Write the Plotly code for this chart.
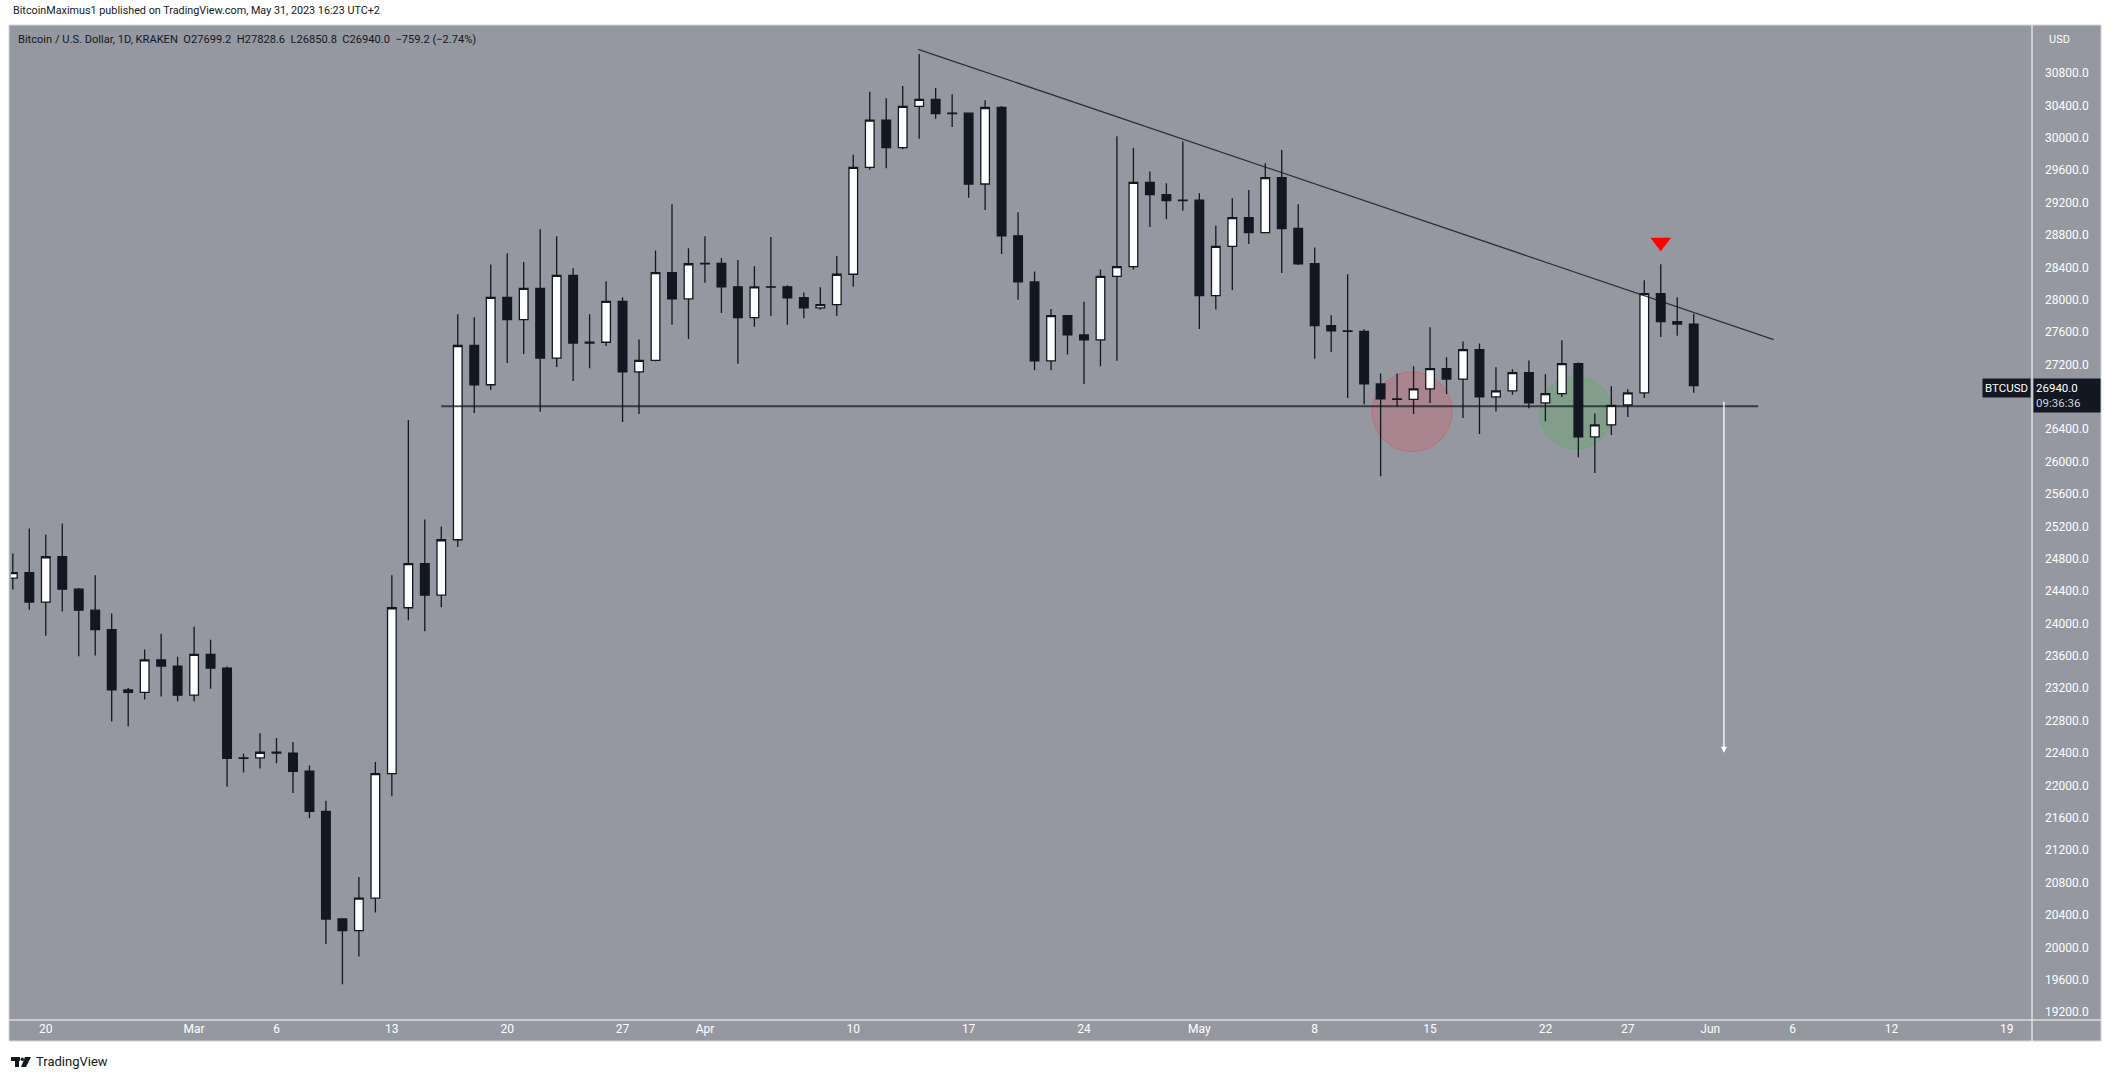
import pandas as pd
import plotly.graph_objects as go

# ---------------- data ----------------
dates = pd.date_range("2023-02-18", "2023-05-31", freq="D")

opens = [24560, 24630, 24265, 24825, 24425, 24165, 23925, 23180, 23150, 23550, 23475,
         23115, 23620, 23450, 22335, 22340, 22410, 22400, 22175, 21680, 20350, 20205, 20607,
         22145, 24195, 24740, 24350, 25035, 27435, 26950, 28030, 27755, 28140, 27280, 28300,
         27465, 27475, 27980, 27110, 27250, 28335, 28010,
         28445, 28450, 28160, 27780, 28160, 28160, 28025, 27900, 27940, 28315, 29635, 30220,
         29880, 30390, 30475, 30300, 30305, 29430, 30375, 28790, 28220, 27245, 27805, 27565,
         27505, 28290, 28410, 29450, 29300, 29225,
         29230, 28050, 28660, 29015, 28830, 29510, 28880, 28445, 27680, 27615, 27610, 26960,
         26775, 26770, 26900, 27150, 27020, 27385, 26800, 26875, 27100, 26725, 26840, 27210,
         26305, 26455, 26700, 26850, 28075, 27730, 27699.2]
highs = [24865, 25175, 25100, 25235, 24440, 24595, 24125, 23205, 23680, 23875, 23590,
         23960, 23800, 23470, 22390, 22645, 22585, 22535, 22245, 21810, 20355, 20870, 22290,
         24595, 26515, 25285, 25200, 27820, 27785, 28435, 28575, 28465, 28870, 28785, 28390,
         27820, 28230, 28030, 27510, 28610, 29180, 28635,
         28785, 28515, 28490, 28415, 28775, 28180, 28090, 28155, 28540, 29790, 30570, 30490,
         30640, 31035, 30615, 30540, 30310, 30465, 30395, 29080, 28350, 27885, 27810, 27975,
         28375, 30020, 29875, 29585, 29440, 29955,
         29315, 28915, 29255, 29355, 29685, 29850, 29180, 28645, 27810, 28315, 27635, 27090,
         27090, 27180, 27660, 27290, 27485, 27460, 27165, 27140, 27250, 27080, 27500, 27225,
         26595, 26930, 26895, 28240, 28440, 28030, 27828.6]
lows = [24420, 24170, 23850, 24150, 23595, 23605, 22790, 22730, 23060, 23100, 23040,
        23040, 23195, 21985, 22160, 22210, 22275, 21905, 21595, 20040, 19545, 19885, 20430,
        21865, 24040, 23905, 24200, 24945, 26600, 26885, 27220, 27330, 26615, 27170, 26995,
        27155, 27430, 26490, 26590, 27240, 27690, 27515,
        28210, 27835, 27210, 27665, 27800, 27690, 27770, 27875, 27800, 28160, 29605, 29625,
        29860, 29990, 30235, 30135, 29260, 29110, 28565, 28000, 27130, 27130, 27325, 26960,
        27180, 27245, 28375, 28900, 28995, 29100,
        27640, 27880, 28120, 28690, 28825, 28330, 28430, 27270, 27355, 26785, 26710, 25820,
        26680, 26590, 26725, 26835, 26540, 26340, 26620, 26825, 26660, 26500, 26800, 26055,
        25860, 26330, 26550, 26785, 27540, 27555, 26850.8]
closes = [24630, 24265, 24825, 24425, 24165, 23925, 23180, 23150, 23550, 23475, 23115,
          23620, 23450, 22335, 22340, 22410, 22400, 22175, 21680, 20350, 20205, 20607, 22145,
          24195, 24740, 24350, 25035, 27435, 26950, 28030, 27755, 28140, 27280, 28300, 27465,
          27475, 27980, 27110, 27250, 28335, 28010, 28445,
          28450, 28160, 27780, 28160, 28155, 28025, 27900, 27940, 28315, 29635, 30220, 29880,
          30390, 30475, 30300, 30305, 29430, 30375, 28790, 28220, 27245, 27805, 27565, 27505,
          28290, 28410, 29450, 29300, 29225, 29230,
          28050, 28660, 29015, 28830, 29510, 28880, 28445, 27680, 27615, 27610, 26960, 26775,
          26770, 26900, 27150, 27020, 27385, 26800, 26875, 27100, 26725, 26840, 27210, 26305,
          26455, 26695, 26850, 28075, 27730, 27699.2, 26940.0]

# drawings (date, price)
trend_dates = ["2023-04-13 22:30", "2023-06-04 20:30"]
trend_prices = [31094, 27508]
support_dates = ["2023-03-16", "2023-06-03 22:00"]
support_prices = [26683, 26683]
red_zone = ("2023-05-13 22:00", 26617)
green_zone = ("2023-05-23 20:00", 26605)
signal_date = ["2023-05-29"]
signal_price = [28710]
target_date = "2023-06-01 20:00"
target_from, target_to = 26757, 22404

x_tick_dates = ["2023-02-20", "2023-03-01", "2023-03-06", "2023-03-13", "2023-03-20",
                "2023-03-27", "2023-04-01", "2023-04-10", "2023-04-17", "2023-04-24",
                "2023-05-01", "2023-05-08", "2023-05-15", "2023-05-22", "2023-05-27",
                "2023-06-01", "2023-06-06", "2023-06-12", "2023-06-19"]
x_tick_text = ["20", "Mar", "6", "13", "20", "27", "Apr", "10", "17", "24", "May", "8",
               "15", "22", "27", "Jun", "6", "12", "19"]
# 26800 is hidden behind the last-price label in the reference
y_ticks = [19200, 19600, 20000, 20400, 20800, 21200, 21600, 22000, 22400, 22800, 23200,
           23600, 24000, 24400, 24800, 25200, 25600, 26000, 26400, 27200, 27600,
           28000, 28400, 28800, 29200, 29600, 30000, 30400, 30800]

# ---------------- layout geometry ----------------
W, H = 2113, 1079
L, R, T, B = 11, 2032, 26, 1020
BG = "#9598a1"
DARK = "#131722"
FONT = "Roboto, 'Open Sans', sans-serif"


def px(x):
    return (x - L) / (R - L)


def py(y):
    return (B - y) / (B - T)


fig = go.Figure()

fig.add_trace(go.Candlestick(
    x=dates, open=opens, high=highs, low=lows, close=closes, hoverinfo="skip",
    increasing=dict(fillcolor="#ffffff", line=dict(color=DARK, width=1.3)),
    decreasing=dict(fillcolor=DARK, line=dict(color=DARK, width=1.3)),
))

# support and trend lines
fig.add_trace(go.Scatter(x=support_dates, y=support_prices, mode="lines", hoverinfo="skip",
                         line=dict(color="rgba(19,23,34,0.72)", width=2)))
fig.add_trace(go.Scatter(x=trend_dates, y=trend_prices, mode="lines", hoverinfo="skip",
                         line=dict(color="rgba(19,23,34,0.8)", width=1.3)))
fig.add_trace(go.Scatter(x=signal_date, y=signal_price, mode="markers", hoverinfo="skip",
                         marker=dict(symbol="triangle-down", size=18, color="#ff0000")))

shapes = []
# gray chart frame
shapes.append(dict(type="rect", xref="paper", yref="paper", layer="below",
                   x0=px(9), x1=px(2101), y0=py(1041), y1=py(25),
                   fillcolor=BG, line=dict(color="#d1d4dc", width=1)))
# highlight zones, behind the candles
shapes.append(dict(type="circle", xref="x", yref="y", layer="below",
                   xsizemode="pixel", ysizemode="pixel",
                   xanchor=red_zone[0], yanchor=red_zone[1], x0=-40, x1=40, y0=-40, y1=40,
                   fillcolor="rgba(242,54,69,0.2)", line=dict(color="rgba(242,54,69,0.35)", width=1)))
shapes.append(dict(type="circle", xref="x", yref="y", layer="below",
                   xsizemode="pixel", ysizemode="pixel",
                   xanchor=green_zone[0], yanchor=green_zone[1], x0=-36.5, x1=36.5, y0=-36.5, y1=36.5,
                   fillcolor="rgba(76,175,80,0.27)", line=dict(color="rgba(76,175,80,0.35)", width=1)))
# separators
shapes.append(dict(type="line", xref="paper", yref="paper", x0=1, x1=1,
                   y0=py(1041), y1=py(25), line=dict(color="#ffffff", width=1)))
shapes.append(dict(type="line", xref="paper", yref="paper", x0=px(9), x1=px(2101),
                   y0=0, y1=0, line=dict(color="#ffffff", width=1)))
# TradingView logo glyph
shapes.append(dict(type="rect", xref="paper", yref="paper", x0=px(11), x1=px(20),
                   y0=py(1061), y1=py(1057), fillcolor=DARK, line=dict(width=0)))
shapes.append(dict(type="rect", xref="paper", yref="paper", x0=px(15), x1=px(19),
                   y0=py(1067), y1=py(1057), fillcolor=DARK, line=dict(width=0)))
shapes.append(dict(type="circle", xref="paper", yref="paper", x0=px(20.5), x1=px(24),
                   y0=py(1061), y1=py(1057.5), fillcolor=DARK, line=dict(width=0)))
shapes.append(dict(type="path", xref="paper", yref="paper", fillcolor=DARK, line=dict(width=0),
                   path=f"M{px(25)},{py(1057)} L{px(31)},{py(1057)} L{px(26)},{py(1067)} "
                        f"L{px(21)},{py(1067)} Z"))

last_o, last_h, last_l, last_c = opens[-1], highs[-1], lows[-1], closes[-1]
chg = last_c - closes[-2]
pct = chg / closes[-2] * 100
legend_txt = (f"Bitcoin / U.S. Dollar, 1D, KRAKEN&nbsp;&nbsp;O{last_o:.1f}&nbsp;&nbsp;H{last_h:.1f}"
              f"&nbsp;&nbsp;L{last_l:.1f}&nbsp;&nbsp;C{last_c:.1f}&nbsp;&nbsp;"
              f"\u2212{abs(chg):.1f} (\u2212{abs(pct):.2f}%)")

annotations = [
    dict(xref="paper", yref="paper", x=px(11), y=py(11), xanchor="left", yanchor="middle",
         text="BitcoinMaximus1 published on TradingView.com, May 31, 2023 16:23 UTC+2",
         showarrow=False, font=dict(family=FONT, size=10.8, color=DARK)),
    dict(xref="paper", yref="paper", x=px(16), y=py(40), xanchor="left", yanchor="middle",
         text=legend_txt, showarrow=False, font=dict(family=FONT, size=11.1, color=DARK)),
    dict(xref="paper", yref="paper", x=px(2047), y=py(40), xanchor="left", yanchor="middle",
         text="USD", showarrow=False, font=dict(family=FONT, size=11, color="#ffffff")),
    dict(xref="paper", yref="paper", x=px(34), y=py(1061), xanchor="left", yanchor="middle",
         text="TradingView", showarrow=False, font=dict(family=FONT, size=13, color=DARK)),
    dict(xref="paper", yref="y", x=1, y=last_c, xanchor="right", yanchor="middle",
         xshift=-1, yshift=-2,
         text="BTCUSD", showarrow=False, bgcolor=DARK, borderpad=2,
         font=dict(family=FONT, size=11.5, color="#ffffff")),
    dict(xref="paper", yref="y", x=1, y=last_c, xanchor="left", yanchor="top",
         xshift=1, yshift=8, width=62, align="left",
         text=f"{last_c:.1f}<br><span style='color:#d1d4dc'>09:36:36</span>",
         showarrow=False, bgcolor=DARK, borderpad=2,
         font=dict(family=FONT, size=11.5, color="#ffffff")),
    dict(x=target_date, y=target_to, ax=target_date, ay=target_from,
         xref="x", yref="y", axref="x", ayref="y", text="", showarrow=True,
         arrowhead=2, arrowsize=0.9, arrowwidth=1.3, arrowcolor="#ffffff", standoff=0),
]

fig.update_layout(
    width=W, height=H,
    margin=dict(l=L, r=W - R, t=T, b=H - B, pad=0),
    paper_bgcolor="#ffffff", plot_bgcolor=BG,
    showlegend=False, boxgap=0.25, hovermode=False,
    font=dict(family=FONT),
    shapes=shapes, annotations=annotations,
    xaxis=dict(type="date", range=["2023-02-17 21:20", "2023-06-20 12:40"],
               rangeslider=dict(visible=False), showgrid=False, zeroline=False,
               tickmode="array", tickvals=x_tick_dates, ticktext=x_tick_text,
               ticks="", showline=False,
               tickfont=dict(family=FONT, size=12, color="#ffffff")),
    yaxis=dict(side="right", range=[19102, 31382], showgrid=False, zeroline=False,
               tickmode="array", tickvals=y_ticks,
               ticktext=[f"{v:.1f}" for v in y_ticks], ticks="", showline=False,
               ticklabelstandoff=12,
               tickfont=dict(family=FONT, size=12, color="#ffffff")),
)

fig.write_html("out.html", config={"displayModeBar": False},
               post_script="document.body.style.margin='0';document.body.style.overflow='hidden';")
